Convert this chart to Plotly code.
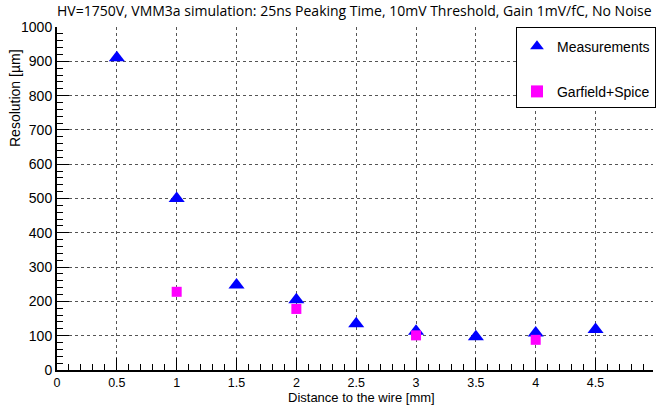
import plotly.graph_objects as go

meas_x = [0.5, 1.0, 1.5, 2.0, 2.5, 3.0, 3.5, 4.0, 4.5]
meas_y = [910, 500, 248, 205, 135, 113, 97, 108, 118]
sim_x = [1.0, 2.0, 3.0, 4.0]
sim_y = [228, 178, 101, 88]
x_ticks = [0, 0.5, 1, 1.5, 2, 2.5, 3, 3.5, 4, 4.5]
x_labels = ["0", "0.5", "1", "1.5", "2", "2.5", "3", "3.5", "4", "4.5"]

fig = go.Figure()
fig.add_trace(go.Scatter(x=meas_x, y=meas_y, mode="markers", name="Measurements",
                         legendgroup="a",
                         marker=dict(symbol="triangle-up", size=14, color="#0000ff")))
fig.add_trace(go.Scatter(x=sim_x, y=sim_y, mode="markers", name="Garfield+Spice",
                         legendgroup="b",
                         marker=dict(symbol="square", size=10, color="#ff00ff")))

axfont = dict(family="Liberation Sans, Arial", size=14, color="black")
xtitlefont = dict(family="Liberation Sans, Arial", size=13, color="black")
xtickfont = dict(family="Liberation Sans, Arial", size=12.5, color="black")
fig.update_layout(
    width=656, height=406,
    margin=dict(l=57, r=3, t=27, b=36, autoexpand=False),
    paper_bgcolor="white", plot_bgcolor="white",
    title=dict(text="HV=1750V, VMM3a simulation: 25ns Peaking Time, 10mV Threshold, Gain 1mV/fC, No Noise",
               x=57/656, xanchor="left", y=1 - 11/406, yanchor="middle",
               font=dict(family="Open Sans", size=14, color="black")),
    showlegend=True,
    legend=dict(x=1.005, y=1, xanchor="right", yanchor="top", bgcolor="white",
                bordercolor="black", borderwidth=1,
                font=dict(family="Liberation Sans, Arial", size=14, color="black"),
                title=dict(text=" ", font=dict(size=2)),
                itemsizing="constant", tracegroupgap=24, entrywidth=118,
                ),
    xaxis=dict(range=[0, 4.98], tickvals=x_ticks, ticktext=x_labels,
               ticks="inside", ticklen=12, tickcolor="black", tickwidth=1,
               showline=True, linecolor="black", linewidth=2,
               showgrid=True, gridcolor="#555555", griddash="dot", gridwidth=1,
               zeroline=False, tickfont=xtickfont, automargin=False,
               minor=dict(dtick=0.1, ticks="inside", ticklen=6, tickcolor="black", showgrid=False)),
    yaxis=dict(range=[0, 1000], dtick=100,
               ticks="inside", ticklen=12, tickcolor="black", tickwidth=1,
               showline=True, linecolor="black", linewidth=2,
               showgrid=True, gridcolor="#555555", griddash="dot", gridwidth=1,
               zeroline=False, tickfont=axfont, automargin=False,
               minor=dict(dtick=20, ticks="inside", ticklen=6, tickcolor="black", showgrid=False)),
)
fig.add_annotation(text="Distance to the wire [mm]", xref="paper", yref="paper",
                   x=(361 - 57) / 596, y=-(397.5 - 370) / 343, xanchor="center", yanchor="middle",
                   showarrow=False, font=xtitlefont, borderpad=0)
fig.add_annotation(text="Resolution [µm]", xref="paper", yref="paper",
                   x=-(57 - 15) / 596, y=(370 - 98) / 343, xanchor="center", yanchor="middle",
                   textangle=-90, showarrow=False, font=axfont)
fig.write_html("out.html", config={"displayModeBar": False},
               post_script="document.body.style.margin='0px';")
